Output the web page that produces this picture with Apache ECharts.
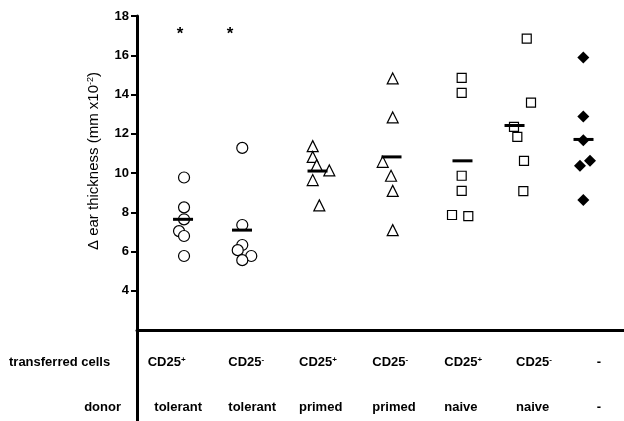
<!DOCTYPE html>
<html>
<head>
<meta charset="utf-8">
<script src="https://cdn.jsdelivr.net/npm/echarts@6/dist/echarts.min.js"></script>
<style>html,body{margin:0;padding:0;background:#fff}#c{width:624px;height:421px}</style>
</head>
<body>
<div id="c"></div>
<script>
// ---- data ----
const cellType = ['CD25', 'CD25', 'CD25', 'CD25', 'CD25', 'CD25', '-'];
const cellSign = ['+', '-', '+', '-', '+', '-', ''];
const donors = ['tolerant', 'tolerant', 'primed', 'primed', 'naive', 'naive', '-'];
const yTicks = [4, 6, 8, 10, 12, 14, 16, 18];

// ear thickness values per group (mm x10^-2)
const tolerantCD25pos = [9.77, 8.25, 7.64, 7.04, 6.79, 5.77];
const tolerantCD25neg = [11.28, 7.35, 6.33, 6.07, 5.77, 5.56];
const primedCD25pos = [11.37, 10.82, 10.40, 10.13, 9.64, 8.35];
const primedCD25neg = [14.82, 12.83, 10.57, 9.86, 9.09, 7.09];
const naiveCD25pos = [14.85, 14.08, 9.86, 9.09, 7.86, 7.80];
const naiveCD25neg = [16.85, 13.59, 12.35, 11.84, 10.62, 9.08];
const noTransfer = [15.88, 12.88, 11.67, 10.62, 10.37, 8.62];
const groupMeans = [7.64, 7.09, 10.10, 10.82, 10.62, 12.42, 11.71];
const significant = [true, true, false, false, false, false, false];

// ---- layout (horizontal placement of each dot in group units) ----
const xTolPos = [0.705, 0.705, 0.705, 0.630, 0.705, 0.705];
const xTolNeg = [1.578, 1.578, 1.578, 1.510, 1.713, 1.578];
const xPriPos = [2.634, 2.634, 2.694, 2.883, 2.634, 2.733];
const xPriNeg = [3.833, 3.833, 3.683, 3.808, 3.833, 3.833];
const xNaiPos = [4.867, 4.867, 4.867, 4.867, 4.722, 4.966];
const xNaiNeg = [5.842, 5.906, 5.651, 5.701, 5.801, 5.791];
const xNone = [6.690, 6.690, 6.690, 6.790, 6.640, 6.690];
const xMean = [0.690, 1.574, 2.706, 3.815, 4.879, 5.659, 6.693];
const xStar = [0.645, 1.394];
const starLevel = 17.05;
const labelLeft1 = [147.7, 228.3, 299, 372.3, 444.3, 516, 596.7];
const labelLeft2 = [154.3, 228.3, 299, 372.3, 444.3, 516, 596.7];

const FONT = "'Liberation Sans', Arial, sans-serif";
const pair = (xs, ys) => ys.map((v, i) => [xs[i], v]);

const openStyle = { color: '#fff', borderColor: '#000', borderWidth: 1.2, opacity: 1 };

const chart = echarts.init(document.getElementById('c'), null, { renderer: 'canvas' });

const graphics = [];
// y axis extension through the label table
graphics.push({ type: 'line', shape: { x1: 137.5, y1: 330, x2: 137.5, y2: 421 }, style: { stroke: '#000', lineWidth: 3 } });
// axis title
graphics.push({
  type: 'text', x: 94, y: 161, rotation: Math.PI / 2,
  style: {
    text: 'Δ ear thickness (mm x10{s|-2})',
    font: '15px ' + FONT, fill: '#000', align: 'center', verticalAlign: 'middle',
    rich: { s: { fontSize: 9, fontFamily: FONT, verticalAlign: 'top', fill: '#000' } }
  }
});
// row headers
graphics.push({ type: 'text', x: 9, y: 362, style: { text: 'transferred cells', font: 'bold 13px ' + FONT, fill: '#000', align: 'left', verticalAlign: 'middle' } });
graphics.push({ type: 'text', x: 121, y: 407, style: { text: 'donor', font: 'bold 13px ' + FONT, fill: '#000', align: 'right', verticalAlign: 'middle' } });
cellType.forEach((t, i) => {
  const txt = cellSign[i] ? t + '{s|' + cellSign[i] + '}' : t;
  graphics.push({
    type: 'text', x: labelLeft1[i], y: 362,
    style: {
      text: txt, font: 'bold 13px ' + FONT, fill: '#000', align: 'left', verticalAlign: 'middle',
      rich: { s: { fontSize: 8, fontWeight: 'bold', fontFamily: FONT, verticalAlign: 'top', fill: '#000' } }
    }
  });
});
donors.forEach((d, i) => {
  graphics.push({ type: 'text', x: labelLeft2[i], y: 407, style: { text: d, font: 'bold 13px ' + FONT, fill: '#000', align: 'left', verticalAlign: 'middle' } });
});

chart.setOption({
  animation: false,
  backgroundColor: '#fff',
  grid: { left: 137, right: 0, top: 16, bottom: 91, containLabel: false },
  xAxis: {
    type: 'value', min: 0, max: 7.3,
    axisLine: { show: true, onZero: false, lineStyle: { color: '#000', width: 3 } },
    axisTick: { show: false }, axisLabel: { show: false }, splitLine: { show: false }
  },
  yAxis: {
    type: 'value', min: 2, max: 18, interval: 2,
    axisLine: { show: true, lineStyle: { color: '#000', width: 3 } },
    axisTick: { show: true, length: 6, customValues: yTicks, lineStyle: { color: '#000', width: 2 } },
    axisLabel: { show: true, margin: 8, customValues: yTicks, color: '#000', fontWeight: 'bold', fontSize: 13, fontFamily: FONT },
    splitLine: { show: false }
  },
  graphic: graphics,
  series: [
    { type: 'scatter', symbol: 'circle', symbolSize: 11, itemStyle: openStyle,
      data: pair(xTolPos, tolerantCD25pos).concat(pair(xTolNeg, tolerantCD25neg)) },
    { type: 'scatter', symbol: 'triangle', symbolSize: [11, 11], itemStyle: openStyle,
      data: pair(xPriPos, primedCD25pos).concat(pair(xPriNeg, primedCD25neg)) },
    { type: 'scatter', symbol: 'rect', symbolSize: 9, itemStyle: openStyle,
      data: pair(xNaiPos, naiveCD25pos).concat(pair(xNaiNeg, naiveCD25neg)) },
    { type: 'scatter', symbol: 'diamond', symbolSize: 12, itemStyle: { color: '#000', opacity: 1 },
      data: pair(xNone, noTransfer) },
    { type: 'scatter', symbol: 'rect', symbolSize: [20, 3], itemStyle: { color: '#000', opacity: 1 }, z: 5,
      data: groupMeans.map((m, i) => [xMean[i], m]) },
    { type: 'scatter', symbolSize: 0, silent: true, itemStyle: { color: '#000', opacity: 1 },
      label: { show: true, position: 'inside', formatter: '*', color: '#000', opacity: 1, fontSize: 17, fontWeight: 'bold', fontFamily: FONT },
      data: significant.map((s, i) => s ? [xStar[i], starLevel] : null).filter(d => d) }
  ]
});
</script>
</body>
</html>
